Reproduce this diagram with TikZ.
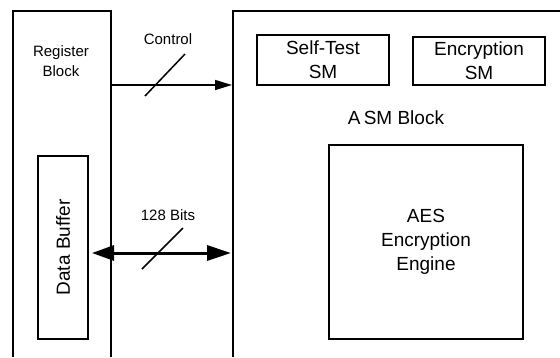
\documentclass[tikz,border=0pt]{standalone}
\usepackage{fontspec}
\setmainfont{Liberation Sans}
\usetikzlibrary{arrows.meta}

\begin{document}
\begin{tikzpicture}[x=1pt,y=-1pt,
    wall/.style={line width=2pt},
    box/.style={draw,line width=2pt,inner sep=0pt,align=center,
      font=\fontsize{19}{24}\selectfont},
    bigtext/.style={font=\fontsize{19}{24}\selectfont,align=center},
    smalltext/.style={font=\fontsize{15}{20}\selectfont,align=center},
    slash/.style={line width=1.5pt}]

  \useasboundingbox (0,0) rectangle (560,357);

  % register block
  \draw [wall] (13,357) -- (13,11) -- (111,11) -- (111,357);
  \node [smalltext] (reg) at (61,61) {Register\\Block};

  % data buffer
  \node [box,rotate=90,minimum width=183pt,minimum height=50pt] (buf)
    at (63,247.5) {Data Buffer};

  % asm block
  \draw [wall] (233,357) -- (233,11) -- (560,11);
  \node [bigtext] (asm) at (396,118) {A\,SM Block};
  \node [box,minimum width=132pt,minimum height=50pt] (selftest)
    at (323,60) {Self-Test\\SM};
  \node [box,minimum width=132pt,minimum height=48pt] (encsm)
    at (479,61) {Encryption\\SM};
  \node [box,minimum width=194pt,minimum height=194pt] (aes)
    at (426,242) {AES\\Encryption\\Engine};

  % control bus
  \coordinate (ctrlA) at (111,85);
  \coordinate (ctrlB) at (232,85);
  \draw [line width=1.5pt,-{Triangle[length=17pt,width=10pt]}] (ctrlA) -- (ctrlB);
  \draw [slash] (145,96) -- (185,54);
  \node [smalltext] (ctrl) at (168,39) {Control};

  % data bus
  \coordinate (dataA) at (92,253);
  \coordinate (dataB) at (231,253);
  \draw [line width=3pt,{Triangle[length=22pt,width=15pt]}-{Triangle[length=24pt,width=15pt]}]
    (dataA) -- (dataB);
  \draw [slash] (142,269) -- (183,228);
  \node [smalltext] (bits) at (168,215) {128 Bits};

\end{tikzpicture}
\end{document}
